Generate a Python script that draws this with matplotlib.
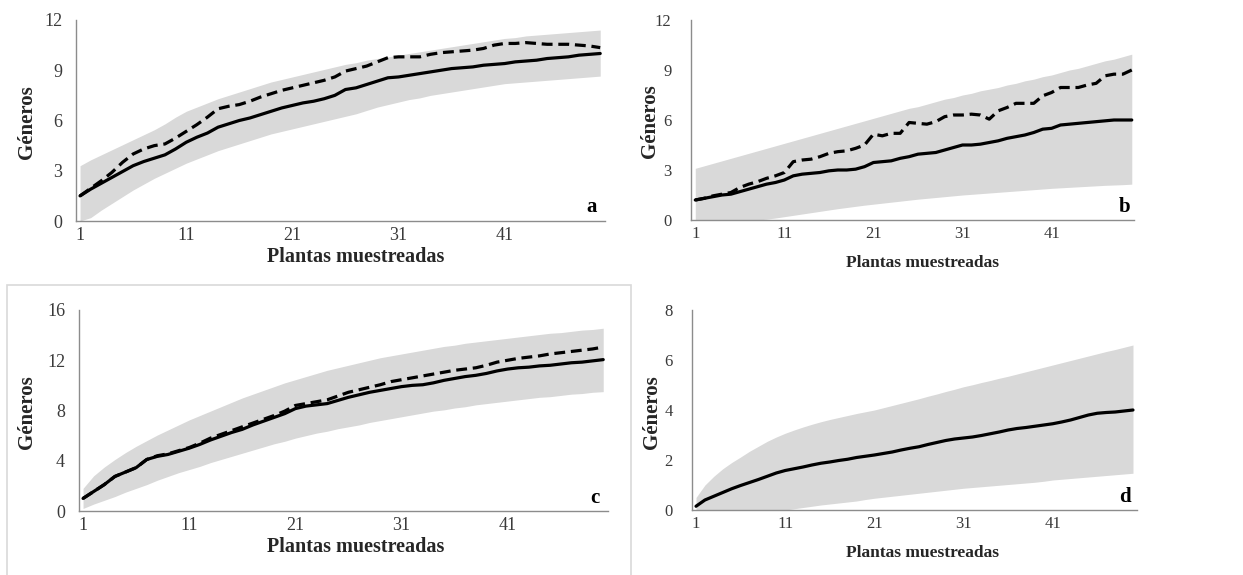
import matplotlib
matplotlib.use("Agg")
import matplotlib.pyplot as plt
from matplotlib.patches import Rectangle

plt.rcParams['font.family'] = ['Liberation Serif', 'DejaVu Serif']

# ---------------- data ----------------
x = list(range(1, 51))

a_obs = [1.50, 1.90, 2.25, 2.60, 2.95, 3.30, 3.55, 3.75, 3.95, 4.30,
         4.70, 5.00, 5.25, 5.60, 5.80, 6.00, 6.15, 6.35, 6.55, 6.75,
         6.90, 7.05, 7.15, 7.30, 7.50, 7.85, 7.95, 8.15, 8.35, 8.55,
         8.60, 8.70, 8.80, 8.90, 9.00, 9.10, 9.15, 9.20, 9.30, 9.35,
         9.40, 9.50, 9.55, 9.60, 9.70, 9.75, 9.80, 9.90, 9.95, 10.00]
a_est = [1.50, 1.95, 2.40, 2.90, 3.50, 4.00, 4.30, 4.50, 4.60, 4.95,
         5.35, 5.75, 6.20, 6.70, 6.85, 6.95, 7.15, 7.40, 7.60, 7.80,
         7.95, 8.10, 8.25, 8.40, 8.60, 8.95, 9.10, 9.25, 9.50, 9.75,
         9.80, 9.80, 9.80, 9.95, 10.05, 10.10, 10.15, 10.20, 10.30, 10.50,
         10.60, 10.60, 10.65, 10.60, 10.55, 10.55, 10.55, 10.50, 10.45, 10.35]
a_upper = [3.30, 3.65, 3.95, 4.25, 4.55, 4.85, 5.15, 5.45, 5.80, 6.20,
           6.55, 6.80, 7.05, 7.30, 7.50, 7.70, 7.90, 8.10, 8.30, 8.45,
           8.60, 8.75, 8.90, 9.05, 9.20, 9.35, 9.45, 9.60, 9.70, 9.80,
           9.90, 10.00, 10.10, 10.20, 10.30, 10.40, 10.50, 10.60, 10.70, 10.80,
           10.90, 10.95, 11.05, 11.10, 11.15, 11.20, 11.25, 11.30, 11.35, 11.40]
a_lower = [0.00, 0.20, 0.65, 1.05, 1.45, 1.85, 2.20, 2.55, 2.85, 3.15,
           3.45, 3.70, 3.95, 4.20, 4.40, 4.60, 4.80, 5.00, 5.20, 5.35,
           5.50, 5.65, 5.80, 5.95, 6.10, 6.25, 6.40, 6.60, 6.80, 6.95,
           7.10, 7.25, 7.35, 7.50, 7.60, 7.70, 7.80, 7.90, 8.00, 8.10,
           8.20, 8.25, 8.30, 8.35, 8.40, 8.45, 8.50, 8.55, 8.60, 8.65]

b_obs = [1.20, 1.30, 1.40, 1.50, 1.55, 1.70, 1.85, 2.00, 2.15, 2.25,
         2.40, 2.65, 2.75, 2.80, 2.85, 2.95, 3.00, 3.00, 3.05, 3.20,
         3.45, 3.50, 3.55, 3.70, 3.80, 3.95, 4.00, 4.05, 4.20, 4.35,
         4.50, 4.50, 4.55, 4.65, 4.75, 4.90, 5.00, 5.10, 5.25, 5.45,
         5.50, 5.70, 5.75, 5.80, 5.85, 5.90, 5.95, 6.00, 6.00, 6.00]
b_est = [1.20, 1.30, 1.45, 1.55, 1.65, 1.95, 2.15, 2.30, 2.50, 2.65,
         2.85, 3.50, 3.60, 3.65, 3.80, 4.00, 4.10, 4.15, 4.30, 4.50,
         5.15, 5.05, 5.20, 5.20, 5.85, 5.80, 5.75, 5.90, 6.20, 6.30,
         6.30, 6.35, 6.30, 6.05, 6.55, 6.75, 7.00, 7.00, 7.00, 7.45,
         7.65, 7.95, 7.95, 7.95, 8.10, 8.20, 8.65, 8.75, 8.75, 9.00]
b_upper = [3.10, 3.25, 3.40, 3.55, 3.70, 3.85, 4.00, 4.15, 4.30, 4.45,
           4.60, 4.75, 4.90, 5.05, 5.20, 5.35, 5.50, 5.65, 5.80, 5.95,
           6.10, 6.25, 6.40, 6.55, 6.70, 6.80, 6.95, 7.10, 7.25, 7.35,
           7.50, 7.60, 7.75, 7.85, 7.95, 8.10, 8.20, 8.35, 8.45, 8.60,
           8.70, 8.85, 9.00, 9.10, 9.25, 9.40, 9.55, 9.65, 9.80, 9.95]
b_lower = [0.00, 0.00, 0.00, 0.00, 0.00, 0.00, 0.00, 0.00, 0.05, 0.12,
           0.20, 0.28, 0.36, 0.44, 0.52, 0.60, 0.68, 0.75, 0.82, 0.89,
           0.95, 1.01, 1.07, 1.13, 1.19, 1.25, 1.30, 1.35, 1.40, 1.45,
           1.50, 1.54, 1.58, 1.62, 1.66, 1.70, 1.74, 1.78, 1.82, 1.86,
           1.90, 1.93, 1.96, 1.99, 2.02, 2.05, 2.08, 2.10, 2.12, 2.15]

c_obs = [1.00, 1.55, 2.10, 2.75, 3.10, 3.45, 4.10, 4.35, 4.50, 4.75,
         5.00, 5.30, 5.65, 5.95, 6.25, 6.50, 6.85, 7.15, 7.45, 7.75,
         8.15, 8.35, 8.45, 8.55, 8.80, 9.05, 9.25, 9.45, 9.60, 9.75,
         9.90, 10.00, 10.05, 10.20, 10.40, 10.55, 10.70, 10.80, 10.95, 11.15,
         11.30, 11.40, 11.45, 11.55, 11.60, 11.70, 11.80, 11.85, 11.95, 12.05]
c_est = [1.00, 1.55, 2.10, 2.75, 3.10, 3.45, 4.10, 4.40, 4.55, 4.80,
         5.05, 5.40, 5.80, 6.10, 6.40, 6.70, 7.00, 7.30, 7.60, 7.95,
         8.40, 8.55, 8.70, 8.85, 9.15, 9.45, 9.65, 9.85, 10.05, 10.30,
         10.45, 10.60, 10.75, 10.90, 11.05, 11.20, 11.30, 11.40, 11.60, 11.85,
         12.00, 12.15, 12.25, 12.35, 12.50, 12.60, 12.70, 12.80, 12.90, 13.05]
c_upper = [1.80, 2.80, 3.50, 4.10, 4.65, 5.15, 5.60, 6.05, 6.45, 6.85,
           7.25, 7.60, 7.95, 8.30, 8.65, 9.00, 9.30, 9.60, 9.90, 10.20,
           10.45, 10.70, 10.95, 11.20, 11.40, 11.60, 11.80, 12.00, 12.20, 12.35,
           12.50, 12.65, 12.80, 12.95, 13.10, 13.20, 13.35, 13.45, 13.55, 13.65,
           13.75, 13.85, 13.95, 14.05, 14.15, 14.20, 14.30, 14.40, 14.45, 14.55]
c_lower = [0.20, 0.55, 0.85, 1.15, 1.50, 1.80, 2.10, 2.45, 2.75, 3.05,
           3.30, 3.55, 3.85, 4.10, 4.35, 4.60, 4.85, 5.10, 5.35, 5.55,
           5.80, 6.00, 6.20, 6.35, 6.55, 6.70, 6.85, 7.05, 7.20, 7.35,
           7.50, 7.65, 7.80, 7.95, 8.05, 8.20, 8.30, 8.45, 8.55, 8.65,
           8.75, 8.85, 8.95, 9.05, 9.10, 9.20, 9.30, 9.35, 9.45, 9.50]

d_obs = [0.15, 0.40, 0.55, 0.70, 0.85, 0.98, 1.10, 1.22, 1.35, 1.48,
         1.58, 1.65, 1.72, 1.80, 1.87, 1.92, 1.98, 2.03, 2.10, 2.15,
         2.20, 2.26, 2.32, 2.40, 2.47, 2.53, 2.62, 2.70, 2.78, 2.84,
         2.88, 2.92, 2.98, 3.05, 3.12, 3.20, 3.26, 3.30, 3.35, 3.40,
         3.45, 3.52, 3.60, 3.70, 3.80, 3.87, 3.90, 3.92, 3.96, 4.00]
d_upper = [0.50, 1.00, 1.35, 1.65, 1.90, 2.12, 2.35, 2.55, 2.75, 2.92,
           3.07, 3.20, 3.32, 3.43, 3.53, 3.62, 3.70, 3.78, 3.86, 3.93,
           4.00, 4.09, 4.18, 4.27, 4.36, 4.45, 4.55, 4.64, 4.74, 4.83,
           4.93, 5.01, 5.10, 5.18, 5.27, 5.35, 5.44, 5.53, 5.62, 5.71,
           5.80, 5.89, 5.98, 6.07, 6.16, 6.25, 6.34, 6.42, 6.51, 6.60]
d_lower = [0.00, 0.00, 0.00, 0.00, 0.00, 0.00, 0.00, 0.00, 0.00, 0.00,
           0.00, 0.05, 0.10, 0.15, 0.20, 0.24, 0.28, 0.32, 0.36, 0.42,
           0.47, 0.51, 0.55, 0.59, 0.63, 0.67, 0.71, 0.75, 0.79, 0.83,
           0.87, 0.90, 0.93, 0.96, 0.99, 1.02, 1.05, 1.08, 1.11, 1.15,
           1.20, 1.23, 1.26, 1.29, 1.32, 1.35, 1.38, 1.41, 1.44, 1.47]

x_ticks = [1, 11, 21, 31, 41]
a_yticks = [0, 3, 6, 9, 12]
b_yticks = [0, 3, 6, 9, 12]
c_yticks = [0, 4, 8, 12, 16]
d_yticks = [0, 2, 4, 6, 8]
x_label = "Plantas muestreadas"
y_label = "Géneros"

# ---------------- figure ----------------
W, H = 1243, 575
fig = plt.figure(figsize=(W / 100, H / 100), dpi=100)
fig.patch.set_facecolor("white")


def rect(left, right, top, bottom):
    return [left / W, 1 - bottom / H, (right - left) / W, (bottom - top) / H]


# light frame around panel c
fig.patches.append(Rectangle((7 / W, -0.01), (631 - 7) / W, 1 - 285 / H + 0.01,
                             transform=fig.transFigure, fill=False,
                             edgecolor="#d9d9d9", linewidth=1.2, zorder=0))

panels = [
    dict(pos=rect(76, 605, 20, 221), xlim=(0.62, 50.45), ymax=12, yticks=a_yticks,
         obs=a_obs, est=a_est, up=a_upper, lo=a_lower, letter="a",
         tick_fs=13, ypad=10, xlab_fs=14.5, xlab_xy=(356, 257), ylab_xy=(27, 122),
         letter_xy=(592, 207)),
    dict(pos=rect(691, 1134, 20, 220), xlim=(0.52, 50.25), ymax=12, yticks=b_yticks,
         obs=b_obs, est=b_est, up=b_upper, lo=b_lower, letter="b",
         tick_fs=12, ypad=14, xlab_fs=12.5, xlab_xy=(922, 263), ylab_xy=(650, 121),
         letter_xy=(1125, 207)),
    dict(pos=rect(79, 608, 310, 511), xlim=(0.62, 50.45), ymax=16, yticks=c_yticks,
         obs=c_obs, est=c_est, up=c_upper, lo=c_lower, letter="c",
         tick_fs=13, ypad=10, xlab_fs=14.5, xlab_xy=(356, 547), ylab_xy=(27, 412),
         letter_xy=(595, 498)),
    dict(pos=rect(692, 1137, 310, 510), xlim=(0.55, 50.45), ymax=8, yticks=d_yticks,
         obs=d_obs, est=None, up=d_upper, lo=d_lower, letter="d",
         tick_fs=12, ypad=14, xlab_fs=12.5, xlab_xy=(922, 553), ylab_xy=(652, 412),
         letter_xy=(1125, 497)),
]

for p in panels:
    ax = fig.add_axes(p["pos"])
    ax.set_facecolor("none")
    ax.fill_between(x, p["lo"], p["up"], color="#d9d9d9", linewidth=0, zorder=1)
    ax.plot(x, p["obs"], color="black", linewidth=2.3, solid_capstyle="round", zorder=3)
    if p["est"] is not None:
        ax.plot(x, p["est"], color="black", linewidth=2.3, linestyle=(0, (3.4, 1.8)),
                zorder=3)
    ax.set_xlim(*p["xlim"])
    ax.set_ylim(0, p["ymax"])
    ax.set_xticks(x_ticks)
    ax.set_yticks(p["yticks"])
    ax.tick_params(length=0, labelsize=p["tick_fs"], colors="#3a3a3a")
    ax.tick_params(axis="y", pad=p["ypad"])
    ax.tick_params(axis="x", pad=4)
    for s in ("top", "right"):
        ax.spines[s].set_visible(False)
    for s in ("left", "bottom"):
        ax.spines[s].set_color("#8c8c8c")
        ax.spines[s].set_linewidth(1.0)
    ax.spines["left"].set_zorder(4)
    ax.spines["bottom"].set_zorder(4)

    fig.text(p["xlab_xy"][0] / W, 1 - p["xlab_xy"][1] / H, x_label,
             ha="center", va="center", fontsize=p["xlab_fs"], fontweight="bold",
             color="#262626")
    fig.text(p["ylab_xy"][0] / W, 1 - p["ylab_xy"][1] / H, y_label,
             ha="center", va="center", rotation=90, fontsize=15, fontweight="bold",
             color="#262626")
    fig.text(p["letter_xy"][0] / W, 1 - p["letter_xy"][1] / H, p["letter"],
             ha="center", va="center", fontsize=15, fontweight="bold", color="black")

fig.savefig("out.png", dpi=100, facecolor="white")
